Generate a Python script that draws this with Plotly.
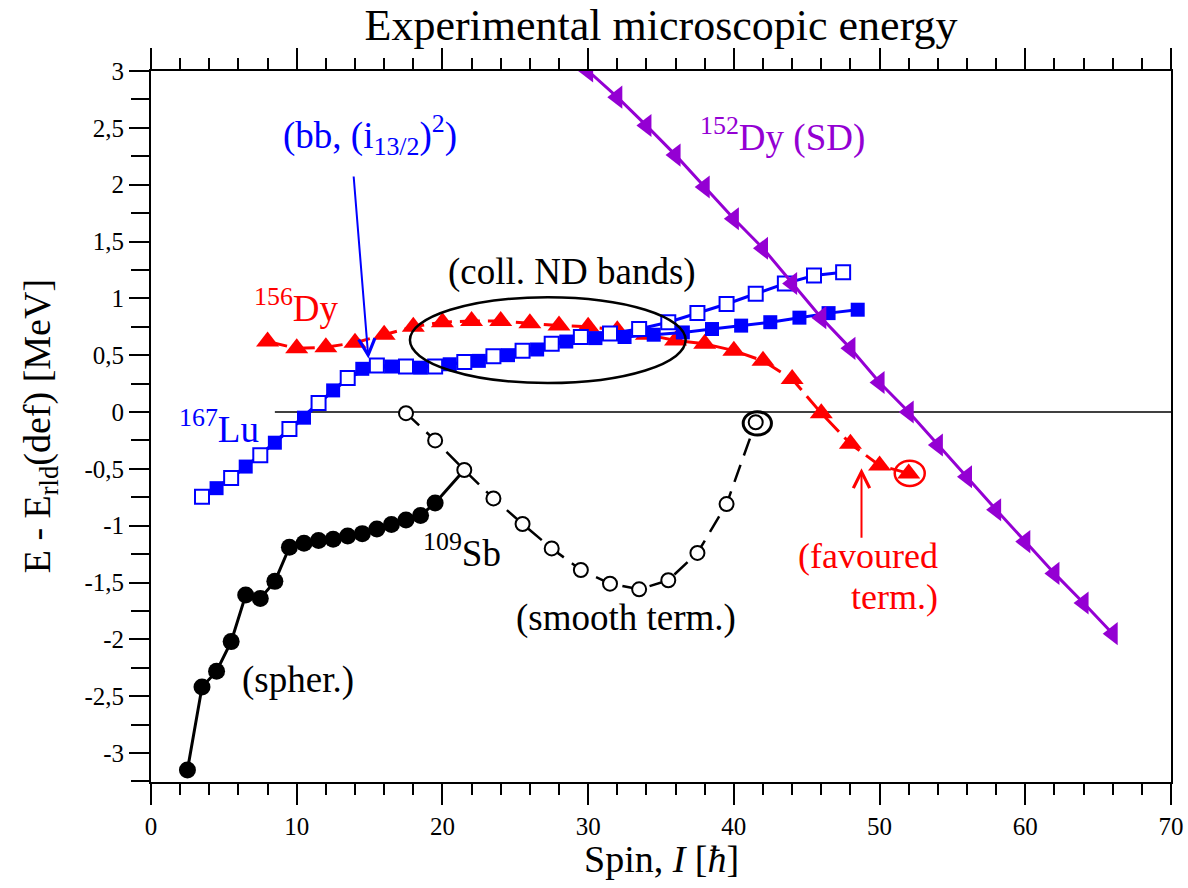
import plotly.graph_objects as go

# ---- 167Lu yrast band, two signature branches ----
lu_open_spin = [3.5, 5.5, 7.5, 9.5, 11.5, 13.5, 15.5, 17.5, 19.5, 21.5, 23.5, 25.5,
                27.5, 29.5, 31.5, 33.5, 35.5, 37.5, 39.5, 41.5, 43.5, 45.5, 47.5]
lu_open_e = [-0.745, -0.58, -0.38, -0.15, 0.08, 0.30, 0.41, 0.40, 0.40, 0.44, 0.49, 0.54,
             0.60, 0.66, 0.69, 0.73, 0.79, 0.87, 0.95, 1.04, 1.13, 1.20, 1.23]
lu_fill_spin = [4.5, 6.5, 8.5, 10.5, 12.5, 14.5, 16.5, 18.5, 20.5, 22.5, 24.5, 26.5,
                28.5, 30.5, 32.5, 34.5, 36.5, 38.5, 40.5, 42.5, 44.5, 46.5, 48.5]
lu_fill_e = [-0.67, -0.48, -0.27, -0.05, 0.19, 0.38, 0.40, 0.39, 0.42, 0.45, 0.50, 0.55,
             0.62, 0.65, 0.66, 0.68, 0.70, 0.73, 0.76, 0.79, 0.83, 0.87, 0.90]

# ---- 156Dy yrast line ----
dy156_spin = [8, 10, 12, 14, 16, 18, 20, 22, 24, 26, 28, 30,
              32, 34, 36, 38, 40, 42, 44, 46, 48, 50, 52]
dy156_e = [0.62, 0.56, 0.57, 0.61, 0.68, 0.75, 0.79, 0.80, 0.80, 0.78, 0.76, 0.75,
           0.72, 0.68, 0.63, 0.60, 0.54, 0.45, 0.29, -0.01, -0.28, -0.47, -0.54]

# ---- 152Dy superdeformed band ----
dy152_spin = [30, 32, 34, 36, 38, 40, 42, 44, 46, 48, 50, 52, 54, 56, 58, 60, 62, 64, 66]
dy152_e = [3.00, 2.77, 2.52, 2.26, 1.98, 1.70, 1.44, 1.13, 0.83, 0.56, 0.26, 0.00,
           -0.29, -0.57, -0.86, -1.14, -1.42, -1.68, -1.95]

# ---- 109Sb: spherical states and smoothly terminating band ----
sb_sph_spin = [2.5, 3.5, 4.5, 5.5, 6.5, 7.5, 8.5, 9.5, 10.5, 11.5, 12.5, 13.5,
               14.5, 15.5, 16.5, 17.5, 18.5, 19.5]
sb_sph_e = [-3.15, -2.42, -2.28, -2.02, -1.61, -1.64, -1.49, -1.19, -1.155, -1.13, -1.12, -1.09,
            -1.07, -1.03, -0.99, -0.95, -0.91, -0.80]
sb_term_spin = [17.5, 19.5, 21.5, 23.5, 25.5, 27.5, 29.5, 31.5, 33.5, 35.5, 37.5, 39.5, 41.5]
sb_term_e = [-0.01, -0.25, -0.51, -0.76, -0.985, -1.20, -1.39, -1.51, -1.56, -1.48, -1.24, -0.81, -0.09]

# ---- axis ticks (comma decimal, plain hyphen minus) ----
y_tick_vals = [-3, -2.5, -2, -1.5, -1, -0.5, 0, 0.5, 1, 1.5, 2, 2.5, 3]
y_tick_text = ["-3", "-2,5", "-2", "-1,5", "-1", "-0,5", "0", "0,5", "1", "1,5", "2", "2,5", "3"]
x_tick_vals = [0, 10, 20, 30, 40, 50, 60, 70]
x_tick_text = ["0", "10", "20", "30", "40", "50", "60", "70"]

BLUE = "#0000ff"
RED = "#ff0000"
PURPLE = "#9400d3"
FONT = "Liberation Serif"

fig = go.Figure()

# 109Sb spherical branch, joined to the start of the terminating band
fig.add_trace(go.Scatter(
    x=sb_sph_spin + [sb_term_spin[2]], y=sb_sph_e + [sb_term_e[2]],
    mode="lines", line=dict(color="black", width=3)))
fig.add_trace(go.Scatter(
    x=sb_sph_spin, y=sb_sph_e, mode="markers",
    marker=dict(symbol="circle", size=17, color="black")))

# 109Sb smooth termination
fig.add_trace(go.Scatter(
    x=sb_term_spin, y=sb_term_e, mode="lines+markers",
    line=dict(color="black", width=2.5, dash="18px,10px"),
    marker=dict(symbol="circle", size=14, color="white",
                line=dict(color="black", width=2))))

# 156Dy
fig.add_trace(go.Scatter(
    x=dy156_spin, y=dy156_e, mode="lines+markers",
    line=dict(color=RED, width=3, dash="20px,8px"),
    marker=dict(symbol="triangle-up", size=20, color=RED)))

# 167Lu
fig.add_trace(go.Scatter(
    x=lu_fill_spin, y=lu_fill_e, mode="lines+markers",
    line=dict(color=BLUE, width=3),
    marker=dict(symbol="square", size=14, color=BLUE)))
fig.add_trace(go.Scatter(
    x=lu_open_spin, y=lu_open_e, mode="lines+markers",
    line=dict(color=BLUE, width=3),
    marker=dict(symbol="square", size=14, color="white",
                line=dict(color=BLUE, width=2))))

# 152Dy SD
fig.add_trace(go.Scatter(
    x=dy152_spin, y=dy152_e, mode="lines+markers",
    line=dict(color=PURPLE, width=3),
    marker=dict(symbol="triangle-left", size=20, color=PURPLE)))

shapes = [
    # reference line E = E_rld
    dict(type="line", xref="x", yref="y", x0=8.5, x1=70, y0=0, y1=0,
         line=dict(color="black", width=1.5), layer="below"),
    # collective ND bands region
    dict(type="circle", xref="x", yref="y", x0=17.77, x1=36.69, y0=0.255, y1=1.01,
         line=dict(color="black", width=2.5)),
    # terminating states
    dict(type="circle", xref="x", yref="y", x0=40.64, x1=42.58, y0=-0.202, y1=0.003,
         line=dict(color="black", width=3)),
    dict(type="circle", xref="x", yref="y", x0=51.04, x1=53.1, y0=-0.651, y1=-0.428,
         line=dict(color=RED, width=2.5)),
]

def label(text, x, y, color, size=37, xanchor="center", yanchor="middle"):
    return dict(text=text, x=x, y=y, xref="x", yref="y", showarrow=False,
                xanchor=xanchor, yanchor=yanchor,
                font=dict(family=FONT, size=size, color=color))

annotations = [
    label("(bb, (i<sub>13/2</sub>)<sup>2</sup>)", 15.05, 2.44, BLUE),
    label("<sup>156</sup>Dy", 9.96, 0.94, RED),
    label("(coll. ND bands)", 28.87, 1.234, "black"),
    label("<sup>167</sup>Lu", 4.69, -0.13, BLUE),
    label("<sup>109</sup>Sb", 21.35, -1.22, "black"),
    label("(smooth term.)", 32.58, -1.81, "black"),
    label("(spher.)", 10.09, -2.36, "black"),
    label("<sup>152</sup>Dy (SD)", 43.37, 2.44, PURPLE),
    label("(favoured", 54.13, -1.27, RED, size=36, xanchor="right"),
    label("term.)", 54.13, -1.625, RED, size=36, xanchor="right"),
    dict(x=14.92, y=0.47, ax=13.9, ay=2.085, xref="x", yref="y", axref="x", ayref="y",
         text="", showarrow=True, arrowhead=5, arrowsize=1.6, arrowwidth=2, arrowcolor=BLUE),
    dict(x=48.76, y=-0.495, ax=48.76, ay=-1.12, xref="x", yref="y", axref="x", ayref="y",
         text="", showarrow=True, arrowhead=5, arrowsize=1.6, arrowwidth=2, arrowcolor=RED),
    # axis titles
    dict(text="Spin, <i>I</i> [<i>ħ</i>]", xref="paper", yref="paper", x=0.5, y=-0.108,
         xanchor="center", yanchor="middle", showarrow=False,
         font=dict(family=FONT, size=38, color="black")),
    dict(text="E - E<sub>rld</sub>(def) [MeV]", xref="paper", yref="paper", x=-0.109, y=0.5,
         xanchor="center", yanchor="middle", textangle=-90, showarrow=False,
         font=dict(family=FONT, size=38, color="black")),
]

fig.update_layout(
    width=1188, height=888,
    margin=dict(l=151, r=17, t=71, b=106, autoexpand=False),
    paper_bgcolor="white", plot_bgcolor="white",
    showlegend=False,
    font=dict(family=FONT, color="black"),
    title=dict(text="Experimental microscopic energy", x=0.5564, xanchor="center",
               y=0.972, yanchor="middle", font=dict(family=FONT, size=44, color="black")),
    shapes=shapes,
    annotations=annotations,
)

fig.update_xaxes(
    range=[0, 70], tickmode="array", tickvals=x_tick_vals, ticktext=x_tick_text,
    automargin=False,
    showgrid=False, zeroline=False,
    showline=True, linecolor="black", linewidth=2, mirror="ticks",
    ticks="outside", ticklen=21, tickwidth=1.5, tickcolor="black",
    minor=dict(dtick=2, tick0=0, ticks="outside", ticklen=11, tickwidth=1.5, tickcolor="black"),
    tickfont=dict(family=FONT, size=25, color="black"),
)
fig.update_yaxes(
    range=[-3.255, 3], tickmode="array", tickvals=y_tick_vals, ticktext=y_tick_text,
    automargin=False,
    showgrid=False, zeroline=False,
    showline=True, linecolor="black", linewidth=2, mirror=True,
    ticks="outside", ticklen=20, tickwidth=1.5, tickcolor="black",
    minor=dict(dtick=0.25, tick0=0, ticks="outside", ticklen=18, tickwidth=1.5, tickcolor="black"),
    tickfont=dict(family=FONT, size=25, color="black"),
)

fig.write_html("out.html")
